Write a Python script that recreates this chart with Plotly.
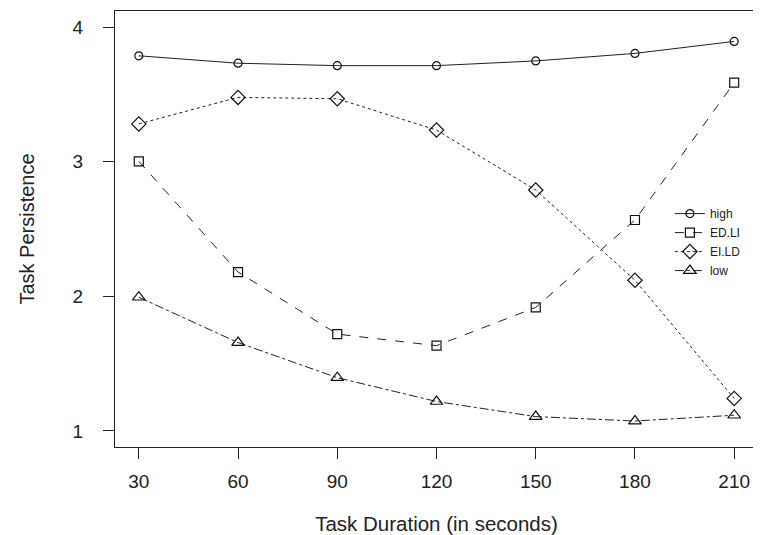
import plotly.graph_objects as go

durations = [30, 60, 90, 120, 150, 180, 210]
high = [3.787, 3.732, 3.714, 3.714, 3.749, 3.805, 3.894]
ed_li = [3.003, 2.180, 1.719, 1.633, 1.917, 2.567, 3.587]
ei_ld = [3.281, 3.478, 3.468, 3.235, 2.790, 2.119, 1.241]
low = [1.993, 1.656, 1.395, 1.218, 1.106, 1.073, 1.116]

series = [
    ("high", high, "solid", "circle-open", 8),
    ("ED.LI", ed_li, "dash", "square-open", 9),
    ("EI.LD", ei_ld, "dot", "diamond-open", 11),
    ("low", low, "dashdot", "triangle-up-open", 11),
]

fig = go.Figure()
for name, vals, dash, sym, size in series:
    fig.add_trace(go.Scatter(
        x=durations, y=vals, name=name, mode="lines+markers",
        line=dict(color="#222222", width=1, dash=dash),
        marker=dict(symbol=sym, size=size, color="#111111",
                    line=dict(width=1.2, color="#111111")),
    ))

font = "Liberation Sans, Arial, sans-serif"
fig.update_layout(
    width=753, height=527,
    margin=dict(l=107, r=3, t=3, b=88),
    paper_bgcolor="white", plot_bgcolor="white",
    font=dict(family=font, size=19, color="#222222"),
    showlegend=True,
    legend=dict(x=0.863, y=0.47, xanchor="left", yanchor="middle",
                font=dict(size=12, color="#222222"),
                bgcolor="rgba(0,0,0,0)", tracegroupgap=0,
                itemwidth=30),
    xaxis=dict(range=[22.8, 217.2], tickvals=durations,
               ticktext=[str(d) for d in durations],
               ticks="outside", ticklen=11, tickcolor="#222222",
               showline=True, mirror=True, linecolor="#222222", linewidth=1,
               showgrid=False, zeroline=False, automargin=False,
               ticklabelstandoff=6,
               title=dict(text="Task Duration (in seconds)", standoff=26,
                          font=dict(size=20.5))),
    yaxis=dict(range=[0.88, 4.12], tickvals=[1, 2, 3, 4],
               ticks="outside", ticklen=11, tickcolor="#222222",
               showline=True, mirror=True, linecolor="#222222", linewidth=1,
               showgrid=False, zeroline=False, automargin=False,
               ticklabelstandoff=16,
               title=dict(text="Task Persistence", standoff=32,
                          font=dict(size=20))),
)

fig.write_html("out.html")
